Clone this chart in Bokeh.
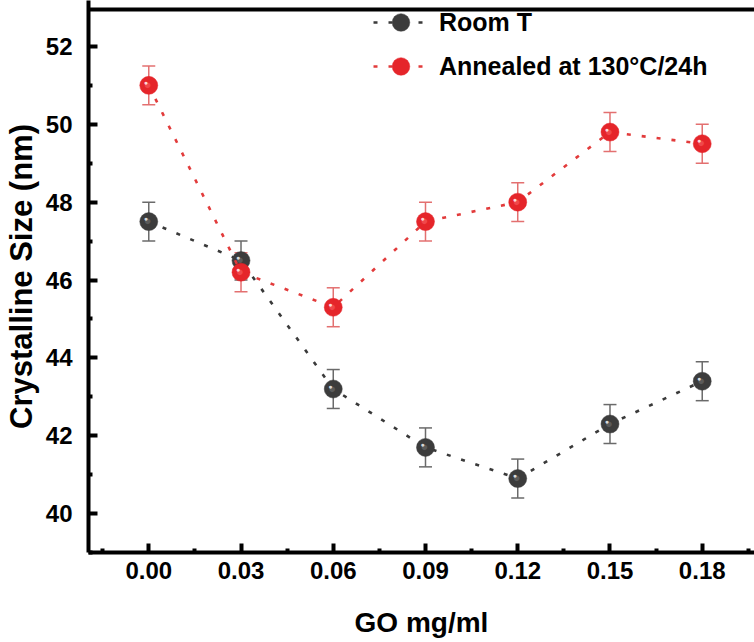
from bokeh.plotting import figure
from bokeh.models import (ColumnDataSource, Whisker, TeeHead, FixedTicker,
                          Range1d, Legend, LegendItem, NumeralTickFormatter)
from bokeh.embed import file_html
from bokeh.resources import INLINE
from bokeh.core.properties import value

# ---- data ----
go_conc = [0.00, 0.03, 0.06, 0.09, 0.12, 0.15, 0.18]
room_t = [47.5, 46.5, 43.2, 41.7, 40.9, 42.3, 43.4]
room_t_err = [0.5, 0.5, 0.5, 0.5, 0.5, 0.5, 0.5]
annealed = [51.0, 46.2, 45.3, 47.5, 48.0, 49.8, 49.5]
annealed_err = [0.5, 0.5, 0.5, 0.5, 0.5, 0.5, 0.5]
x_ticks = [0.00, 0.03, 0.06, 0.09, 0.12, 0.15, 0.18]
x_minor = [-0.015, 0.015, 0.045, 0.075, 0.105, 0.135, 0.165, 0.195]
y_ticks = [40, 42, 44, 46, 48, 50, 52]
y_minor = [39, 41, 43, 45, 47, 49, 51]
labels = ["Room T", "Annealed at 130°C/24h"]
frame_top_value = 52.95   # value at which the plot's upper frame line sits

FONT = "Liberation Sans"

X_START, X_END = -0.0196, 0.197
Y_START, Y_END = 39.0, 53.18

p = figure(width=754, height=642, output_backend="svg", toolbar_location=None,
           x_range=Range1d(X_START, X_END), y_range=Range1d(Y_START, Y_END),
           min_border_left=88, min_border_right=0, min_border_top=0, min_border_bottom=90,
           outline_line_color=None)
p.grid.visible = False
p.background_fill_color = "white"
p.border_fill_color = "white"

# top frame border
p.hspan(y=[frame_top_value], line_color="black", line_width=4)

def style_axis(ax):
    ax.axis_line_width = 4
    ax.axis_line_color = "black"
    ax.major_tick_in = 9
    ax.major_tick_out = 0
    ax.minor_tick_in = 4
    ax.minor_tick_out = 0
    ax.major_tick_line_width = 4
    ax.minor_tick_line_width = 4
    ax.major_label_text_font = FONT
    ax.major_label_text_font_style = "bold"
    ax.major_label_text_font_size = "24px"
    ax.major_label_text_color = "black"
    ax.axis_label_text_font = FONT
    ax.axis_label_text_font_style = "bold"
    ax.axis_label_text_color = "black"

xa = p.xaxis[0]
style_axis(xa)
xa.ticker = FixedTicker(ticks=x_ticks, minor_ticks=x_minor)
xa.formatter = NumeralTickFormatter(format="0.00")
xa.major_label_standoff = 9
xa.axis_label = "GO mg/ml"
xa.axis_label_text_font_size = "28px"
xa.axis_label_standoff = 25

ya = p.yaxis[0]
style_axis(ya)
ya.ticker = FixedTicker(ticks=y_ticks, minor_ticks=y_minor)
ya.major_label_standoff = 16
ya.axis_label = "Crystalline Size (nm)"
ya.axis_label_text_font_size = "31px"
ya.axis_label_standoff = 4

series = [
    (room_t, room_t_err, "#3a3a3a", "#3c3c3c", "#5a5a5a", "#d8d8d8", "#6a6a6a"),
    (annealed, annealed_err, "#e23b3b", "#e5252a", "#f0474b", "#ffd6d6", "#e37070"),
]

items = []
for (vals, err, lc, fc, mid, hi, ec), lab in zip(series, labels):
    src = ColumnDataSource(dict(x=go_conc, y=vals,
                                lo=[v - e for v, e in zip(vals, err)],
                                hi=[v + e for v, e in zip(vals, err)]))
    w = Whisker(source=src, base="x", upper="hi", lower="lo", line_color=ec, line_width=1.5,
                upper_head=TeeHead(size=13, line_color=ec, line_width=1.5),
                lower_head=TeeHead(size=13, line_color=ec, line_width=1.5))
    p.add_layout(w)
    l = p.line("x", "y", source=src, line_color=lc, line_width=2.6, line_dash="4 11")
    c = p.scatter("x", "y", source=src, size=18, fill_color=fc, line_color=fc, line_width=0.5)
    p.text("x", "y", source=src, text=value("●"), x_offset=-1, y_offset=-1,
           text_font_size="13px", text_color=mid, text_align="center", text_baseline="middle")
    p.text("x", "y", source=src, text=value("●"), x_offset=-3, y_offset=-3,
           text_font_size="7px", text_color=hi, text_align="center", text_baseline="middle")
    items.append(LegendItem(label=lab, renderers=[l, c]))

legend = Legend(items=items, location=(285, 464), padding=0, margin=0,
                border_line_color=None, background_fill_alpha=0,
                glyph_width=55, glyph_height=44, label_standoff=11, spacing=0,
                label_text_font=FONT, label_text_font_style="bold",
                label_text_font_size="25px", label_text_color="black")
p.add_layout(legend)

open("out.html", "w").write(file_html(p, INLINE))
